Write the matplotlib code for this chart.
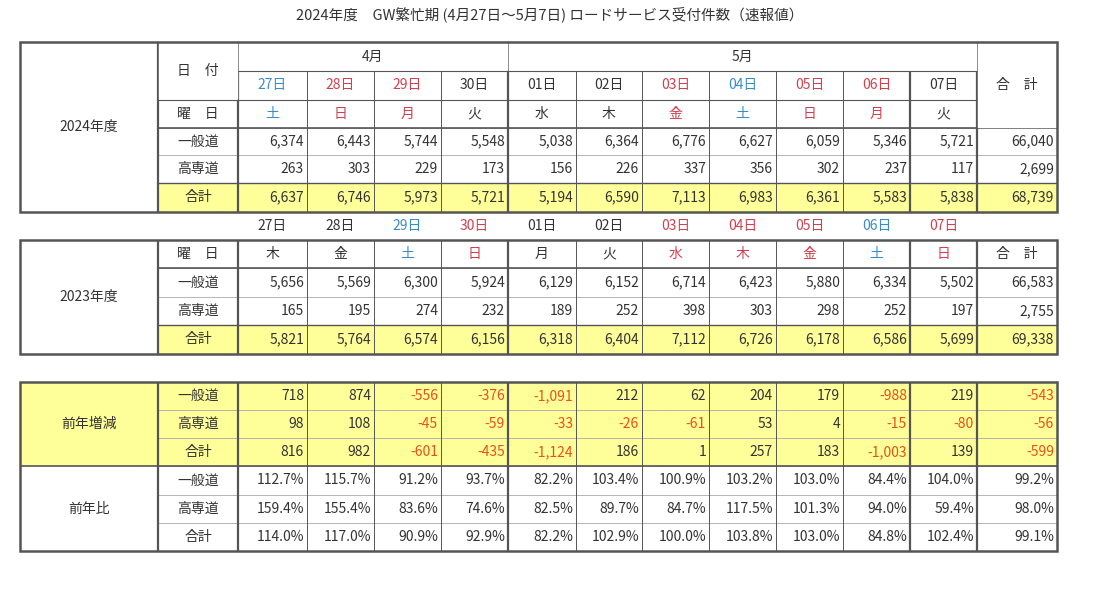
import matplotlib
matplotlib.use('Agg')
import matplotlib.pyplot as plt
from matplotlib.patches import Rectangle

plt.rcParams['font.family'] = 'Noto Sans CJK JP'

# --- data ---
days_24 = ['27日', '28日', '29日', '30日', '01日', '02日', '03日', '04日', '05日', '06日', '07日']
wd_24 = ['土', '日', '月', '火', '水', '木', '金', '土', '日', '月', '火']
col_24 = ['b', 'r', 'r', 'k', 'k', 'k', 'r', 'b', 'r', 'r', 'k']
ippan_24 = ['6,374', '6,443', '5,744', '5,548', '5,038', '6,364', '6,776', '6,627', '6,059', '5,346', '5,721', '66,040']
kosen_24 = ['263', '303', '229', '173', '156', '226', '337', '356', '302', '237', '117', '2,699']
total_24 = ['6,637', '6,746', '5,973', '5,721', '5,194', '6,590', '7,113', '6,983', '6,361', '5,583', '5,838', '68,739']

days_23 = ['27日', '28日', '29日', '30日', '01日', '02日', '03日', '04日', '05日', '06日', '07日']
wd_23 = ['木', '金', '土', '日', '月', '火', '水', '木', '金', '土', '日']
col_23 = ['k', 'k', 'b', 'r', 'k', 'k', 'r', 'r', 'r', 'b', 'r']
ippan_23 = ['5,656', '5,569', '6,300', '5,924', '6,129', '6,152', '6,714', '6,423', '5,880', '6,334', '5,502', '66,583']
kosen_23 = ['165', '195', '274', '232', '189', '252', '398', '303', '298', '252', '197', '2,755']
total_23 = ['5,821', '5,764', '6,574', '6,156', '6,318', '6,404', '7,112', '6,726', '6,178', '6,586', '5,699', '69,338']

diff_ippan = ['718', '874', '-556', '-376', '-1,091', '212', '62', '204', '179', '-988', '219', '-543']
diff_kosen = ['98', '108', '-45', '-59', '-33', '-26', '-61', '53', '4', '-15', '-80', '-56']
diff_total = ['816', '982', '-601', '-435', '-1,124', '186', '1', '257', '183', '-1,003', '139', '-599']

ratio_ippan = ['112.7%', '115.7%', '91.2%', '93.7%', '82.2%', '103.4%', '100.9%', '103.2%', '103.0%', '84.4%', '104.0%', '99.2%']
ratio_kosen = ['159.4%', '155.4%', '83.6%', '74.6%', '82.5%', '89.7%', '84.7%', '117.5%', '101.3%', '94.0%', '59.4%', '98.0%']
ratio_total = ['114.0%', '117.0%', '90.9%', '92.9%', '82.2%', '102.9%', '100.0%', '103.8%', '103.0%', '84.8%', '102.4%', '99.1%']

COLORS = {'k': '#333333', 'r': '#d0404f', 'b': '#3a8cc4'}
YELLOW = '#ffff99'
NEG = '#e8501a'
FS = 10

xs = [20, 158, 238, 307, 374, 441, 508, 576, 642, 709, 776, 843, 910, 977, 1057]

fig = plt.figure(figsize=(11, 6), dpi=100)
ax = fig.add_axes([0, 0, 1, 1])
ax.set_xlim(0, 1100)
ax.set_ylim(600, 0)
ax.axis('off')


def txt(x, y, s, ha='center', c='#333333', fs=FS):
    ax.text(x, y, s, ha=ha, va='center', color=c, fontsize=fs, zorder=6)


def fill(x0, x1, y0, y1, c=YELLOW):
    ax.add_patch(Rectangle((x0, y0), x1 - x0, y1 - y0, color=c, zorder=0, lw=0))


def hl(y, x0, x1, lw=0.8, c='#555555', z=2):
    ax.plot([x0, x1], [y, y], color=c, lw=lw, solid_capstyle='butt', zorder=z)


def vl(x, y0, y1, lw=0.8, c='#555555'):
    ax.plot([x, x], [y0, y1], color=c, lw=lw, solid_capstyle='butt')


def values_row(vals, y0, y1, neg_red=False):
    for i, v in enumerate(vals):
        c = NEG if (neg_red and v.startswith('-')) else '#333333'
        txt(xs[i + 3] - 3, (y0 + y1) / 2, v, ha='right', c=c)


def grid(y_rows, thick_x, top_x0=20):
    y0, y1 = y_rows[0], y_rows[-1]
    for y in y_rows[1:-1]:
        hl(y, xs[1], xs[-1], lw=0.6, c='#aaaaaa')
    for x in xs[3:-1]:
        vl(x, y0, y1, lw=1.6 if x in thick_x else 0.7)
    vl(xs[1], y0, y1, lw=1.6)
    vl(xs[2], y0, y1, lw=1.6)
    ax.add_patch(Rectangle((top_x0, y0), xs[-1] - top_x0, y1 - y0, fill=False,
                           lw=1.8, ec='#555555', zorder=5))


txt(550, 14, '2024年度　GW繁忙期 (4月27日～5月7日) ロードサービス受付件数（速報値）', fs=10.5)

# --- 2024 block ---
r = [42, 71, 100, 128, 155, 183, 212]
fill(xs[1], xs[-1], r[5], r[6])
grid(r, [508, 910, 977])
hl(r[3], xs[1], xs[-1], lw=1.2)
hl(r[5], xs[1], xs[-1], lw=1.0)
# clear the merged header cells
for x0, x1, y0, y1 in [(xs[2], xs[6], r[0], r[1]), (xs[6], xs[13], r[0], r[1]),
                       (xs[1], xs[2], r[0], r[2]), (xs[13], xs[14], r[0], r[3])]:
    ax.add_patch(Rectangle((x0 + 1, y0 + 1), x1 - x0 - 2, y1 - y0 - 2, color='white', zorder=3))
hl(r[1], xs[2], xs[13], lw=0.8, z=4)
hl(r[2], xs[1], xs[13], lw=0.8, z=4)
txt((xs[2] + xs[6]) / 2, (r[0] + r[1]) / 2, '4月')
txt((xs[6] + xs[13]) / 2, (r[0] + r[1]) / 2, '5月')
txt((xs[1] + xs[2]) / 2, (r[0] + r[2]) / 2, '日　付')
txt((xs[13] + xs[14]) / 2, (r[0] + r[3]) / 2, '合　計')
for i in range(11):
    cx = (xs[i + 2] + xs[i + 3]) / 2
    txt(cx, (r[1] + r[2]) / 2, days_24[i], c=COLORS[col_24[i]])
    txt(cx, (r[2] + r[3]) / 2, wd_24[i], c=COLORS[col_24[i]])
txt((xs[1] + xs[2]) / 2, (r[2] + r[3]) / 2, '曜　日')
for lab, vals, k in [('一般道', ippan_24, 3), ('高専道', kosen_24, 4), ('合計', total_24, 5)]:
    txt((xs[1] + xs[2]) / 2, (r[k] + r[k + 1]) / 2, lab)
    values_row(vals, r[k], r[k + 1])
txt((xs[0] + xs[1]) / 2, (r[0] + r[-1]) / 2, '2024年度')

# --- 2023 block ---
for i in range(11):
    txt((xs[i + 2] + xs[i + 3]) / 2, 226, days_23[i], c=COLORS[col_23[i]])
r = [240, 268, 297, 325, 354]
fill(xs[1], xs[-1], r[3], r[4])
grid(r, [508, 910, 977])
hl(r[1], xs[1], xs[-1], lw=1.2)
hl(r[3], xs[1], xs[-1], lw=1.0)
txt((xs[1] + xs[2]) / 2, (r[0] + r[1]) / 2, '曜　日')
for i in range(11):
    txt((xs[i + 2] + xs[i + 3]) / 2, (r[0] + r[1]) / 2, wd_23[i], c=COLORS[col_23[i]])
txt((xs[13] + xs[14]) / 2, (r[0] + r[1]) / 2, '合　計')
for lab, vals, k in [('一般道', ippan_23, 1), ('高専道', kosen_23, 2), ('合計', total_23, 3)]:
    txt((xs[1] + xs[2]) / 2, (r[k] + r[k + 1]) / 2, lab)
    values_row(vals, r[k], r[k + 1])
txt((xs[0] + xs[1]) / 2, (r[0] + r[-1]) / 2, '2023年度')

# --- comparison block ---
r = [382, 410, 438, 466, 495, 523, 551]
fill(xs[0], xs[-1], r[0], r[3])
grid(r, [508, 910, 977])
hl(r[3], xs[0], xs[-1], lw=1.2)
rows = [('一般道', diff_ippan, True), ('高専道', diff_kosen, True), ('合計', diff_total, True),
        ('一般道', ratio_ippan, False), ('高専道', ratio_kosen, False), ('合計', ratio_total, False)]
for k, (lab, vals, neg) in enumerate(rows):
    txt((xs[1] + xs[2]) / 2, (r[k] + r[k + 1]) / 2, lab)
    values_row(vals, r[k], r[k + 1], neg_red=neg)
txt((xs[0] + xs[1]) / 2, (r[0] + r[3]) / 2, '前年増減')
txt((xs[0] + xs[1]) / 2, (r[3] + r[6]) / 2, '前年比')

fig.savefig('out.png', dpi=100, facecolor='white')
